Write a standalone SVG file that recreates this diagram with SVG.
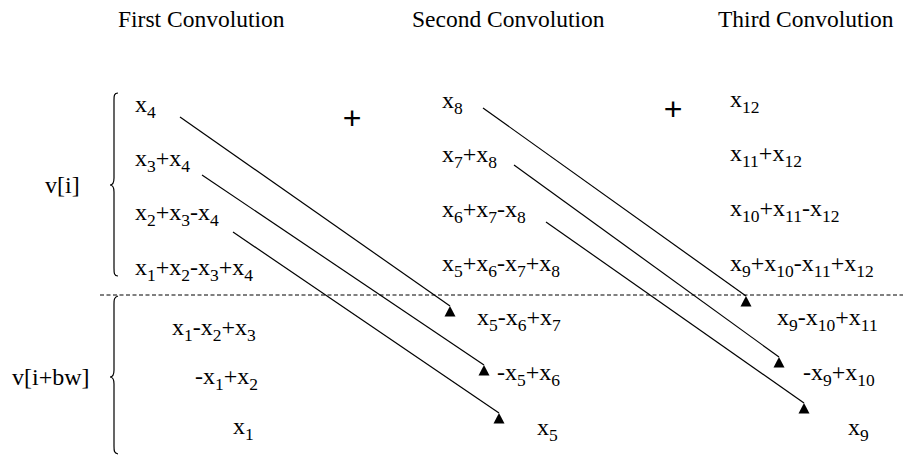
<svg xmlns="http://www.w3.org/2000/svg" width="903" height="457" viewBox="0 0 903 457">
<style>
text{font-family:"Liberation Serif","Times New Roman",Times,serif;fill:#000}
.t{font-size:23.5px}
.f{font-size:24px}
.s{font-size:17.5px}
.p{font-family:"Liberation Sans",Arial,sans-serif;font-size:32px;text-anchor:middle}
.ln{stroke:#000;stroke-width:1.2;fill:none}
.br{stroke:#000;stroke-width:1.2;fill:none}
.dash{stroke:#000;stroke-width:1;stroke-dasharray:4 2.5}
</style>
<defs>
<marker id="tri" markerUnits="userSpaceOnUse" markerWidth="14" markerHeight="14" viewBox="-7 -1 14 14" refX="0" refY="0" orient="0">
<path d="M0,0 L5.5,10.5 L-5.5,10.5 Z" fill="#000"/>
</marker>
</defs>
<g id="titles">
<text class="t" x="118" y="27">First Convolution</text>
<text class="t" x="412" y="27">Second Convolution</text>
<text class="t" x="718" y="27">Third Convolution</text>
</g>
<g id="labels">
<text class="f" x="45" y="193">v[i]</text>
<text class="f" x="12" y="385">v[i+bw]</text>
<path class="br" d="M118,93 C114,93 114,96 114,100 L114,178 C114,183 112,185 110,185 C112,185 114,187 114,192 L114,268 C114,273 114,276 118,276"/>
<path class="br" d="M118,296 C114,297 114,300 114,304 L114,370 C114,375 112,377 110,377 C112,377 114,379 114,384 L114,446 C114,451 114,453 118,454"/>
<line class="dash" x1="100" y1="295" x2="903" y2="295"/>
<text class="p" x="352" y="129">+</text>
<text class="p" x="673" y="120">+</text>
</g>
<g id="first">
<text class="f" x="135" y="112">x<tspan class="s" dy="6">4</tspan></text>
<text class="f" x="135" y="166">x<tspan class="s" dy="6">3</tspan><tspan dy="-6">+x</tspan><tspan class="s" dy="6">4</tspan></text>
<text class="f" x="135" y="220">x<tspan class="s" dy="6">2</tspan><tspan dy="-6">+x</tspan><tspan class="s" dy="6">3</tspan><tspan dy="-6">-x</tspan><tspan class="s" dy="6">4</tspan></text>
<text class="f" x="135" y="275">x<tspan class="s" dy="6">1</tspan><tspan dy="-6">+x</tspan><tspan class="s" dy="6">2</tspan><tspan dy="-6">-x</tspan><tspan class="s" dy="6">3</tspan><tspan dy="-6">+x</tspan><tspan class="s" dy="6">4</tspan></text>
<text class="f" x="172" y="335">x<tspan class="s" dy="6">1</tspan><tspan dy="-6">-x</tspan><tspan class="s" dy="6">2</tspan><tspan dy="-6">+x</tspan><tspan class="s" dy="6">3</tspan></text>
<text class="f" x="195" y="384">-x<tspan class="s" dy="6">1</tspan><tspan dy="-6">+x</tspan><tspan class="s" dy="6">2</tspan></text>
<text class="f" x="233" y="434">x<tspan class="s" dy="6">1</tspan></text>
</g>
<g id="second">
<text class="f" x="442" y="108">x<tspan class="s" dy="6">8</tspan></text>
<text class="f" x="442" y="162">x<tspan class="s" dy="6">7</tspan><tspan dy="-6">+x</tspan><tspan class="s" dy="6">8</tspan></text>
<text class="f" x="442" y="217">x<tspan class="s" dy="6">6</tspan><tspan dy="-6">+x</tspan><tspan class="s" dy="6">7</tspan><tspan dy="-6">-x</tspan><tspan class="s" dy="6">8</tspan></text>
<text class="f" x="442" y="271">x<tspan class="s" dy="6">5</tspan><tspan dy="-6">+x</tspan><tspan class="s" dy="6">6</tspan><tspan dy="-6">-x</tspan><tspan class="s" dy="6">7</tspan><tspan dy="-6">+x</tspan><tspan class="s" dy="6">8</tspan></text>
<text class="f" x="477" y="325">x<tspan class="s" dy="6">5</tspan><tspan dy="-6">-x</tspan><tspan class="s" dy="6">6</tspan><tspan dy="-6">+x</tspan><tspan class="s" dy="6">7</tspan></text>
<text class="f" x="497" y="380">-x<tspan class="s" dy="6">5</tspan><tspan dy="-6">+x</tspan><tspan class="s" dy="6">6</tspan></text>
<text class="f" x="537" y="435">x<tspan class="s" dy="6">5</tspan></text>
</g>
<g id="third">
<text class="f" x="730" y="107">x<tspan class="s" dy="6">12</tspan></text>
<text class="f" x="730" y="161">x<tspan class="s" dy="6">11</tspan><tspan dy="-6">+x</tspan><tspan class="s" dy="6">12</tspan></text>
<text class="f" x="730" y="216">x<tspan class="s" dy="6">10</tspan><tspan dy="-6">+x</tspan><tspan class="s" dy="6">11</tspan><tspan dy="-6">-x</tspan><tspan class="s" dy="6">12</tspan></text>
<text class="f" x="730" y="271">x<tspan class="s" dy="6">9</tspan><tspan dy="-6">+x</tspan><tspan class="s" dy="6">10</tspan><tspan dy="-6">-x</tspan><tspan class="s" dy="6">11</tspan><tspan dy="-6">+x</tspan><tspan class="s" dy="6">12</tspan></text>
<text class="f" x="777" y="325">x<tspan class="s" dy="6">9</tspan><tspan dy="-6">-x</tspan><tspan class="s" dy="6">10</tspan><tspan dy="-6">+x</tspan><tspan class="s" dy="6">11</tspan></text>
<text class="f" x="803" y="380">-x<tspan class="s" dy="6">9</tspan><tspan dy="-6">+x</tspan><tspan class="s" dy="6">10</tspan></text>
<text class="f" x="848" y="435">x<tspan class="s" dy="6">9</tspan></text>
</g>
<g id="connectors">
<line class="ln" x1="180" y1="117" x2="450" y2="306" marker-end="url(#tri)"/>
<line class="ln" x1="202" y1="175" x2="484" y2="365" marker-end="url(#tri)"/>
<line class="ln" x1="233" y1="232" x2="499" y2="413" marker-end="url(#tri)"/>
<line class="ln" x1="483" y1="108" x2="746" y2="296" marker-end="url(#tri)"/>
<line class="ln" x1="514" y1="165" x2="779" y2="357" marker-end="url(#tri)"/>
<line class="ln" x1="546" y1="222" x2="804" y2="403" marker-end="url(#tri)"/>
</g>
</svg>
